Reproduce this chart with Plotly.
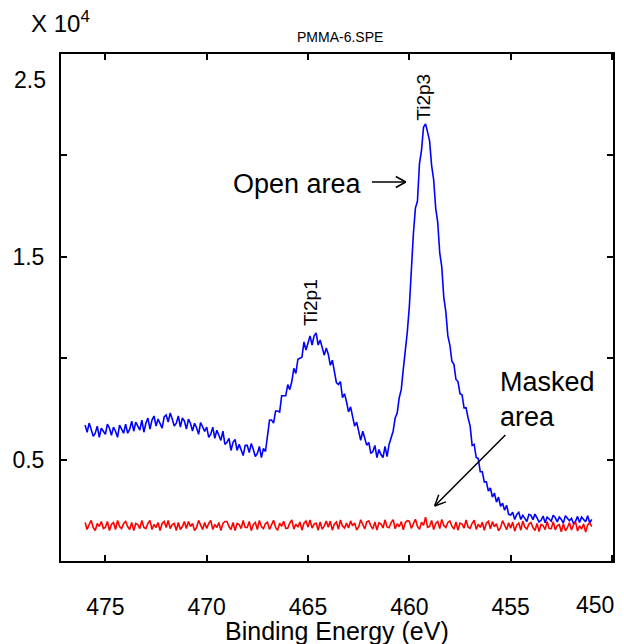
import plotly.graph_objects as go

# Binding-energy grid: 476.0 eV down to 451.0 eV, 0.1 eV step
e_start = 476.0
e_step = 0.1

open_area = [
    6700, 6350, 6800, 6500, 6150, 6300, 6650, 6100, 6550, 6400,
    6250, 6750, 6550, 6200, 6600, 6400, 6100, 6700, 6500, 6300,
    6750, 6300, 6500, 6900, 6400, 6850, 6650, 6450, 6950, 6350,
    6800, 7050, 6500, 6950, 7150, 6650, 7000, 6750, 6550, 7100,
    7200, 6850, 7300, 7000, 6650, 6800, 7150, 6600, 7050, 6900,
    6500, 7000, 6780, 6410, 6790, 6570, 6250, 6830, 6610, 6390,
    6600, 6100, 6250, 6600, 6050, 6450, 6200, 5950, 6400, 5750,
    5850, 6050, 5450, 5850, 6000, 5450, 5750, 5450, 5200, 5700,
    5700, 5350, 5800, 5500, 5150, 5300, 5650, 5100, 5550, 5400,
    6250, 6950, 6950, 6800, 7400, 7400, 7350, 8150, 8150, 8150,
    8700, 8450, 8850, 9500, 9250, 9950, 10000, 10050, 10800, 10400,
    10750, 11100, 10650, 11100, 11250, 10650, 10900, 10500, 10150, 10500,
    10200, 9650, 9900, 9350, 8800, 8700, 8850, 8050, 8250, 7850,
    7350, 7600, 7200, 6650, 6850, 6450, 5950, 6400, 6050, 5700,
    5850, 5300, 5400, 5700, 5100, 5500, 5250, 5100, 5650, 5150,
    5750, 6150, 6400, 7050, 7300, 8050, 8450, 9450, 10250, 11300,
    12550, 14600, 16150, 17400, 17750, 19600, 20250, 21400, 21550, 21150,
    20700, 19500, 18800, 17400, 16700, 15200, 14500, 13000, 12300, 11100,
    10650, 9850, 9700, 8950, 8850, 8250, 8200, 7550, 7550, 7050,
    6650, 5700, 5750, 5100, 5050, 4400, 4400, 3900, 3900, 3450,
    3600, 3150, 3350, 2900, 3150, 2700, 2850, 2500, 2750, 2300,
    2270, 2400, 2050, 2300, 2400, 2050, 2250, 2100, 1950, 2300,
    2250, 2040, 2310, 2130, 1920, 2010, 2220, 1890, 2160, 2070,
    1960, 2260, 2140, 1930, 2170, 2050, 1870, 2230, 2110, 1990,
    2110, 1840, 1960, 2200, 1900, 2170, 2050, 1930, 2230, 1870,
    2050,
]

masked_area = [
    1900, 1550, 1800, 2000, 1650, 1500, 1850, 1700, 1950, 1600,
    1650, 1950, 1500, 1800, 1900, 1550, 2000, 1700, 1600, 1850,
    1950, 1700, 1550, 1900, 1500, 1850, 1800, 1600, 2000, 1650,
    1600, 1850, 2000, 1550, 1800, 1650, 1900, 1500, 1850, 1950,
    1650, 2000, 1600, 1800, 1850, 1500, 1900, 1550, 1700, 1950,
    1600, 1950, 1700, 1850, 1500, 1650, 2000, 1800, 1550, 1900,
    1600, 1850, 2000, 1550, 1800, 1650, 1900, 1500, 1850, 1950,
    1950, 1700, 1550, 1900, 1500, 1850, 1800, 1600, 2000, 1650,
    1650, 1950, 1500, 1800, 1900, 1550, 2000, 1700, 1600, 1850,
    1910, 1560, 1810, 2010, 1660, 1510, 1860, 1710, 1960, 1610,
    1620, 1870, 2020, 1570, 1820, 1670, 1920, 1520, 1870, 1970,
    1670, 2020, 1620, 1820, 1870, 1520, 1920, 1570, 1720, 1970,
    1670, 1970, 1520, 1820, 1920, 1570, 2020, 1720, 1620, 1870,
    1630, 1980, 1730, 1880, 1530, 1680, 2030, 1830, 1580, 1930,
    1980, 1730, 1580, 1930, 1530, 1880, 1830, 1630, 2030, 1680,
    1640, 1890, 2040, 1590, 1840, 1690, 1940, 1540, 1890, 1990,
    1960, 1610, 1860, 2060, 1710, 1560, 1910, 1760, 2160, 1660,
    1700, 2000, 1550, 1850, 1950, 1600, 2050, 1750, 1650, 1900,
    1970, 1720, 1570, 1920, 1520, 1870, 1820, 1620, 2020, 1670,
    1610, 1860, 2010, 1560, 1810, 1660, 1910, 1510, 1860, 1960,
    1590, 1940, 1690, 1840, 1490, 1640, 1990, 1790, 1540, 1890,
    1620, 1920, 1470, 1770, 1870, 1520, 1970, 1670, 1570, 1820,
    1900, 1650, 1500, 1850, 1450, 1800, 1750, 1550, 1950, 1600,
    1590, 1940, 1540, 1740, 1790, 1440, 1840, 1490, 1640, 1890,
    1530, 1780, 1930, 1480, 1730, 1580, 1830, 1430, 1780, 1880,
    1700,
]

energy = [round(e_start - e_step * i, 2) for i in range(len(open_area))]

x_ticks = [475, 470, 465, 460, 455, 450]
x_ticktext = ["475", "470", "465", "460", "455", ""]
y_tickvals = [5000, 10000, 15000, 20000]
y_ticktext = ["0.5", "", "1.5", ""]

W, H = 624, 644
L, R, T, B = 61, 9, 54, 83
PW, PH = W - L - R, H - T - B
X_RANGE = [477.19, 449.95]
Y_RANGE = [0, 25000]


def px(xp):
    return (xp - L) / PW


def py(yp):
    return (H - B - yp) / PH


def dx(xp):
    return X_RANGE[0] + (xp - L) / PW * (X_RANGE[1] - X_RANGE[0])


def dy(yp):
    return Y_RANGE[0] + (H - B - yp) / PH * (Y_RANGE[1] - Y_RANGE[0])


FONT = "Arial, Liberation Sans, sans-serif"
TICK = 23

fig = go.Figure()
fig.add_trace(go.Scatter(x=energy, y=open_area, mode="lines",
                         line=dict(color="#0000ff", width=1.6), name="Open area"))
fig.add_trace(go.Scatter(x=energy, y=masked_area, mode="lines",
                         line=dict(color="#ff0000", width=1.6), name="Masked area"))

fig.update_layout(
    width=W, height=H,
    margin=dict(l=L, r=R, t=T, b=B),
    paper_bgcolor="white", plot_bgcolor="white",
    showlegend=False,
    font=dict(family=FONT, color="black"),
)
fig.update_xaxes(
    range=X_RANGE, tickvals=x_ticks, ticktext=x_ticktext, ticks="inside", ticklen=6,
    tickwidth=1.5, tickcolor="black", showline=True, linecolor="black", linewidth=2,
    mirror="ticks", showgrid=False, zeroline=False,
    tickfont=dict(size=TICK, family=FONT, color="black"), ticklabelstandoff=24,
)
fig.update_yaxes(
    range=Y_RANGE, tickvals=y_tickvals, ticktext=y_ticktext, ticks="inside",
    ticklen=6, tickwidth=1.5, tickcolor="black", showline=True, linecolor="black",
    linewidth=2, mirror="ticks", showgrid=False, zeroline=False,
    tickfont=dict(size=TICK, family=FONT, color="black"), ticklabelstandoff=10,
)

ann = []
ann.append(dict(x=px(48), y=py(80), xref="paper", yref="paper", text="2.5",
                showarrow=False, xanchor="right", yanchor="middle",
                font=dict(size=TICK, family=FONT, color="black")))
ann.append(dict(x=px(597), y=py(605), xref="paper", yref="paper", text="450",
                showarrow=False, xanchor="center", yanchor="middle",
                font=dict(size=TICK, family=FONT, color="black")))
ann.append(dict(x=px(29), y=py(22), xref="paper", yref="paper", text="X 10<sup>4</sup>",
                showarrow=False, xanchor="left", yanchor="middle",
                font=dict(size=24, family=FONT, color="black")))
ann.append(dict(x=px(341), y=py(37), xref="paper", yref="paper", text="PMMA-6.SPE",
                showarrow=False, xanchor="center", yanchor="middle",
                font=dict(size=14, family=FONT, color="black")))
ann.append(dict(x=0.5, y=py(631), xref="paper", yref="paper", text="Binding Energy (eV)",
                showarrow=False, xanchor="center", yanchor="middle",
                font=dict(size=25, family=FONT, color="black")))
ann.append(dict(x=px(424), y=py(97), xref="paper", yref="paper", text="Ti2p3",
                showarrow=False, textangle=-90, xanchor="center", yanchor="middle",
                font=dict(size=19, family=FONT, color="black")))
ann.append(dict(x=px(311), y=py(303), xref="paper", yref="paper", text="Ti2p1",
                showarrow=False, textangle=-90, xanchor="center", yanchor="middle",
                font=dict(size=19, family=FONT, color="black")))
ann.append(dict(x=px(232), y=py(184), xref="paper", yref="paper", text="Open area",
                showarrow=False, xanchor="left", yanchor="middle",
                font=dict(size=27, family=FONT, color="black")))
ann.append(dict(x=px(500), y=py(400), xref="paper", yref="paper", text="Masked<br>area",
                showarrow=False, xanchor="left", yanchor="middle", align="left",
                font=dict(size=27, family=FONT, color="black")))
fig.update_layout(annotations=ann)

# open-headed arrows (tail, tip, head arm 1, head arm 2) in pixel positions
arrows = [
    [(373, 182), (407, 182), (397, 176.5), (397, 187.5)],
    [(507, 435), (436, 506), (447.3, 501.9), (440.1, 494.7)],
]
shapes = []
for tail, tip, a1, a2 in arrows:
    for p0, p1 in [(tail, tip), (a1, tip), (a2, tip)]:
        shapes.append(dict(type="line", xref="x", yref="y",
                           x0=dx(p0[0]), y0=dy(p0[1]), x1=dx(p1[0]), y1=dy(p1[1]),
                           line=dict(color="black", width=1.5)))
fig.update_layout(shapes=shapes)

fig.write_html("out.html")
